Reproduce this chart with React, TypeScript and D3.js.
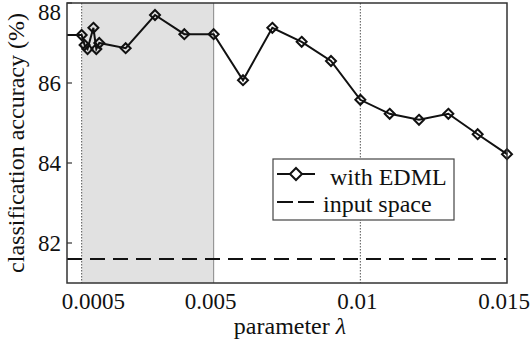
import React from 'react';
import * as d3 from 'd3';

// lambda values and classification accuracy (%) with EDML
const lambdas = [0, 0.0005, 0.0006, 0.0007, 0.0009, 0.001, 0.0011, 0.002, 0.003, 0.004, 0.005,
  0.006, 0.007, 0.008, 0.009, 0.01, 0.011, 0.012, 0.013, 0.014, 0.015];
const accuracy = [87.2, 87.2, 86.95, 86.85, 87.38, 86.85, 87.0, 86.87, 87.7, 87.22, 87.22,
  86.07, 87.38, 87.03, 86.55, 85.58, 85.23, 85.08, 85.23, 84.72, 84.22];
const inputSpace = 81.6;

const shadedRange = [0.0005, 0.005];
const dottedAt = [0.0005, 0.01];
const xTickPos = [0.001, 0.005, 0.01, 0.015];
const xTickLabels = ['0.0005', '0.005', '0.01', '0.015'];
const yTicks = [82, 84, 86, 88];

const W = 530;
const H = 343;
const font = '"Liberation Serif", "DejaVu Serif", serif';

const diamond = (cx: number, cy: number, r = 5) =>
  `M${cx},${cy - r}L${cx + r},${cy}L${cx},${cy + r}L${cx - r},${cy}Z`;

export default function App() {
  const x = d3.scaleLinear().domain([0, 0.015]).range([67, 507]);
  const y = d3.scaleLinear().domain([81, 88]).range([283, 3]);

  const pts = lambdas.map((l, i) => [x(l), y(accuracy[i])] as [number, number]);
  const line = d3.line()(pts) || '';
  const [x0, x1] = x.range();
  const [yb, yt] = y.range();

  return (
    <svg width={W} height={H} style={{ position: 'absolute', left: 0, top: 0, background: '#fff' }}
      fontFamily={font}>
      {/* shaded region */}
      <rect x={x(shadedRange[0])} y={yt} width={x(shadedRange[1]) - x(shadedRange[0])}
        height={yb - yt} fill="#e1e1e1" />
      <line x1={x(shadedRange[1])} x2={x(shadedRange[1])} y1={yt} y2={yb} stroke="#888" strokeWidth={1} />
      {dottedAt.map((d) => (
        <line key={d} x1={x(d)} x2={x(d)} y1={yt} y2={yb} stroke="#555" strokeWidth={1}
          strokeDasharray="1.5,1.5" />
      ))}

      {/* input space baseline */}
      <line x1={x0} x2={x1} y1={y(inputSpace)} y2={y(inputSpace)} stroke="#111" strokeWidth={2}
        strokeDasharray="15,8" />

      {/* EDML line */}
      <path d={line} fill="none" stroke="#111" strokeWidth={2} />
      {pts.filter((_, i) => lambdas[i] > 0).map(([px, py], i) => (
        <path key={i} d={diamond(px, py)} fill="none" stroke="#111" strokeWidth={2} />
      ))}

      {/* frame */}
      <rect x={x0} y={yt} width={x1 - x0} height={yb - yt} fill="none" stroke="#333" strokeWidth={1.5} />

      {/* y ticks */}
      {yTicks.map((t) => (
        <g key={t}>
          <line x1={x0} x2={x0 + 5} y1={y(t)} y2={y(t)} stroke="#333" strokeWidth={1.2} />
          <text x={x0 - 6} y={Math.max(y(t), 12)} dy="0.35em" textAnchor="end" fontSize={23}
            fill="#111">{t}</text>
        </g>
      ))}

      {/* x ticks */}
      {xTickPos.map((t, i) => (
        <text key={t} x={x(t)} dx={-3} y={309} textAnchor="middle" fontSize={23} fill="#111">
          {xTickLabels[i]}
        </text>
      ))}

      {/* axis labels */}
      <text x={(x0 + x1) / 2 + 3} y={334} textAnchor="middle" fontSize={24} fill="#111">
        parameter <tspan fontStyle="italic">λ</tspan>
      </text>
      <text transform={`translate(24,${(yt + yb) / 2}) rotate(-90)`} textAnchor="middle" fontSize={24}
        fill="#111">classification accuracy (%)</text>

      {/* legend */}
      <g>
        <rect x={273} y={159} width={181} height={61} fill="#fff" stroke="#444" strokeWidth={1.2} />
        <line x1={277} x2={315} y1={174} y2={174} stroke="#111" strokeWidth={2} />
        <path d={diamond(296, 174, 6)} fill="#fff" stroke="#111" strokeWidth={2} />
        <text x={330} y={185} fontSize={24} fill="#111">with EDML</text>
        <line x1={277} x2={315} y1={202} y2={202} stroke="#111" strokeWidth={2} strokeDasharray="16,5" />
        <text x={323} y={212} fontSize={24} fill="#111">input space</text>
      </g>
    </svg>
  );
}
